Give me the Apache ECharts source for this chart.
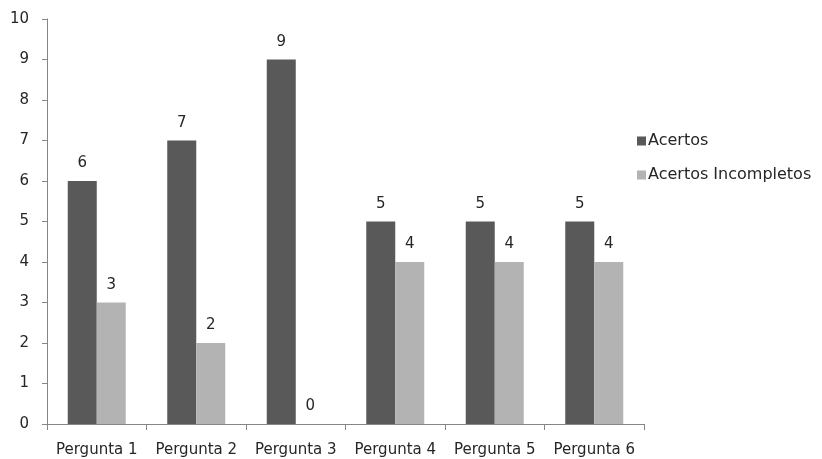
<!DOCTYPE html>
<html>
<head>
<meta charset="utf-8">
<script src="https://cdn.jsdelivr.net/npm/echarts@6/dist/echarts.min.js"></script>
<style>html,body{margin:0;padding:0;background:#fff;}#c{width:822px;height:459px;}</style>
</head>
<body>
<div id="c"></div>
<script>
const categories = ['Pergunta 1','Pergunta 2','Pergunta 3','Pergunta 4','Pergunta 5','Pergunta 6'];
const acertos = [6, 7, 9, 5, 5, 5];
const incompletos = [3, 2, 0, 4, 4, 4];
const seriesNames = ['Acertos', 'Acertos Incompletos'];
const yTicks = {min: 0, max: 10, interval: 1};

const chart = echarts.init(document.getElementById('c'));
const font = 'DejaVu Sans';
const lbl = {show: true, position: 'top', distance: 10, color: '#262626', fontFamily: font, fontSize: 15};
chart.setOption({
  animation: false,
  textStyle: {fontFamily: font},
  grid: {left: 47, right: 178, top: 19, bottom: 35},
  legend: {
    orient: 'vertical', left: 632, top: 128,
    itemWidth: 9, itemHeight: 9, itemGap: 18,
    icon: 'rect',
    textStyle: {fontFamily: font, fontSize: 16, color: '#262626', padding: [0,0,0,-3]},
    data: seriesNames
  },
  xAxis: {
    type: 'category', data: categories,
    axisLine: {lineStyle: {color: '#868686'}},
    axisTick: {show: true, length: 6, lineStyle: {color: '#868686'}},
    axisLabel: {color: '#262626', fontFamily: font, fontSize: 15, margin: 19, interval: 0}
  },
  yAxis: {
    type: 'value', min: yTicks.min, max: yTicks.max, interval: yTicks.interval,
    axisLine: {show: true, lineStyle: {color: '#868686'}},
    axisTick: {show: true, length: 5, lineStyle: {color: '#868686'}},
    splitLine: {show: false},
    axisLabel: {color: '#262626', fontFamily: font, fontSize: 15, margin: 18}
  },
  series: [
    {name: seriesNames[0], type: 'bar', data: acertos, barWidth: 29, barGap: '0%',
     itemStyle: {color: '#595959'}, label: lbl},
    {name: seriesNames[1], type: 'bar', data: incompletos, barWidth: 29,
     itemStyle: {color: '#b3b3b3'}, label: lbl}
  ]
});
</script>
</body>
</html>
